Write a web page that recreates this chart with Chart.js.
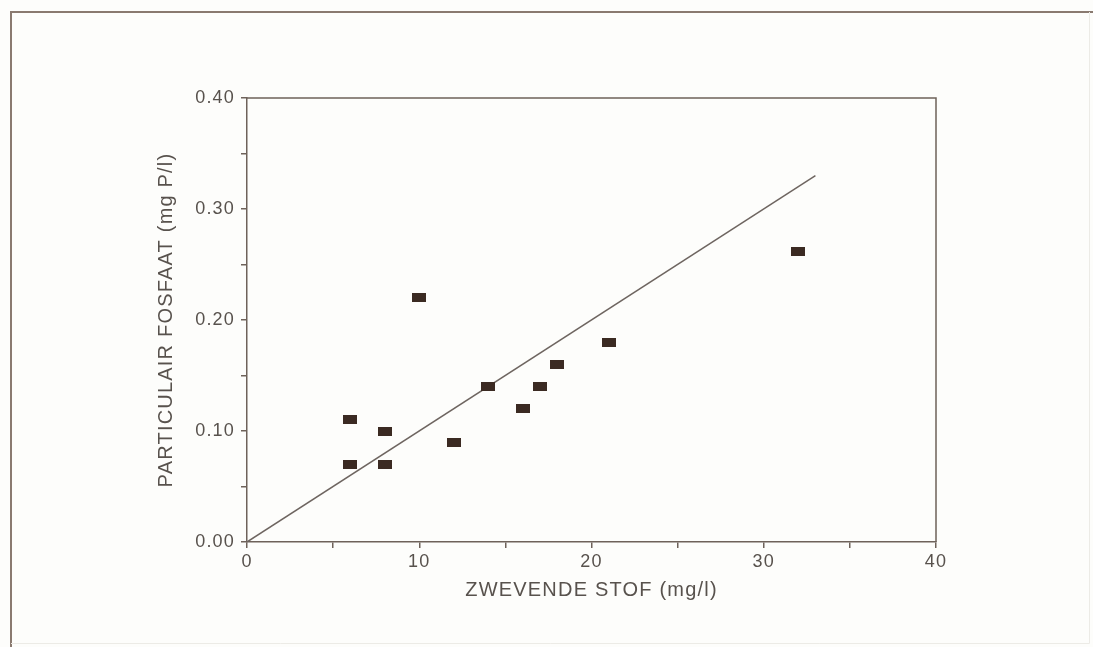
<!DOCTYPE html>
<html>
<head>
<meta charset="utf-8">
<script src="https://cdn.jsdelivr.net/npm/chart.js@4.4.1/dist/chart.umd.min.js"></script>
<style>
  html, body { margin: 0; padding: 0; background: #fdfdfb; }
  canvas { display: block; }
</style>
</head>
<body>
<canvas id="c" width="1093" height="647"></canvas>
<script>
// Data
const xValues = [6, 6, 8, 8, 10, 12, 14, 16, 17, 18, 21, 32];        // ZWEVENDE STOF (mg/l)
const yValues = [0.11, 0.07, 0.10, 0.07, 0.22, 0.09, 0.14, 0.12, 0.14, 0.16, 0.18, 0.262]; // PARTICULAIR FOSFAAT (mg P/l)
const fitX = [0, 33];
const fitY = [0, 0.33];
const xTitle = 'ZWEVENDE STOF (mg/l)';
const yTitle = 'PARTICULAIR FOSFAAT (mg P/l)';

const axisColor = '#6e625a';
const textColor = '#58524d';
const markColor = '#3b2a22';

// rectangular marker
const marker = document.createElement('canvas');
marker.width = 14; marker.height = 9;
const mctx = marker.getContext('2d');
mctx.fillStyle = markColor;
mctx.fillRect(0, 0, 14, 9);

const framePlugin = {
  id: 'frame',
  beforeDraw(chart) {
    const ctx = chart.ctx;
    ctx.save();
    ctx.fillStyle = '#fdfdfb';
    ctx.fillRect(0, 0, chart.width, chart.height);
    // outer frame
    ctx.strokeStyle = '#8a7a70';
    ctx.lineWidth = 2;
    ctx.beginPath();
    ctx.moveTo(11, 647);
    ctx.lineTo(11, 12);
    ctx.lineTo(1093, 12);
    ctx.stroke();
    ctx.strokeStyle = '#ecebe6';
    ctx.lineWidth = 1;
    ctx.beginPath();
    ctx.moveTo(1089.5, 12);
    ctx.lineTo(1089.5, 643.5);
    ctx.lineTo(11, 643.5);
    ctx.stroke();
    ctx.restore();
    ctx.letterSpacing = '1.2px';
  },
  afterDraw(chart) {
    const ctx = chart.ctx;
    const a = chart.chartArea;
    ctx.save();
    ctx.strokeStyle = axisColor;
    ctx.lineWidth = 1.5;
    ctx.beginPath();
    ctx.moveTo(a.left, a.top);
    ctx.lineTo(a.right, a.top);
    ctx.lineTo(a.right, a.bottom);
    ctx.stroke();
    ctx.restore();
  }
};

const scatterData = xValues.map((x, i) => ({ x: x, y: yValues[i] }));
const lineData = fitX.map((x, i) => ({ x: x, y: fitY[i] }));

new Chart(document.getElementById('c'), {
  type: 'scatter',
  data: {
    datasets: [
      {
        type: 'line',
        data: lineData,
        borderColor: '#6e6560',
        borderWidth: 1.5,
        pointRadius: 0,
        fill: false,
        order: 2
      },
      {
        type: 'scatter',
        data: scatterData,
        pointStyle: marker,
        pointRadius: 7,
        backgroundColor: markColor,
        borderColor: markColor,
        order: 1
      }
    ]
  },
  options: {
    responsive: false,
    animation: false,
    events: [],
    layout: { padding: { left: 154, top: 98, right: 157, bottom: 45 } },
    plugins: { legend: { display: false }, tooltip: { enabled: false } },
    scales: {
      x: {
        type: 'linear',
        min: 0, max: 40,
        afterFit(scale) { scale.height = 60; },
        ticks: {
          stepSize: 5,
          autoSkip: false,
          maxRotation: 0,
          padding: 3,
          color: textColor,
          font: { family: '"Liberation Sans", Arial, sans-serif', size: 18 },
          callback: (v) => (v % 10 === 0 ? String(v) : '')
        },
        grid: { display: true, drawOnChartArea: false, drawTicks: true, tickLength: 6, color: axisColor, lineWidth: 1.5 },
        border: { display: true, color: axisColor, width: 1.5 },
        title: {
          display: true,
          text: xTitle,
          color: textColor,
          padding: 0,
          font: { family: '"Liberation Sans", Arial, sans-serif', size: 20 }
        }
      },
      y: {
        type: 'linear',
        min: 0, max: 0.4,
        afterFit(scale) { scale.width = 93; },
        ticks: {
          stepSize: 0.05,
          autoSkip: false,
          padding: 6,
          color: textColor,
          font: { family: '"Liberation Sans", Arial, sans-serif', size: 18 },
          callback: (v) => (Math.abs(v * 10 - Math.round(v * 10)) < 1e-6 ? v.toFixed(2) : '')
        },
        grid: { display: true, drawOnChartArea: false, drawTicks: true, tickLength: 6, color: axisColor, lineWidth: 1.5 },
        border: { display: true, color: axisColor, width: 1.5 },
        title: {
          display: true,
          text: yTitle,
          color: textColor,
          padding: 0,
          font: { family: '"Liberation Sans", Arial, sans-serif', size: 20 }
        }
      }
    }
  },
  plugins: [framePlugin]
});
</script>
</body>
</html>
